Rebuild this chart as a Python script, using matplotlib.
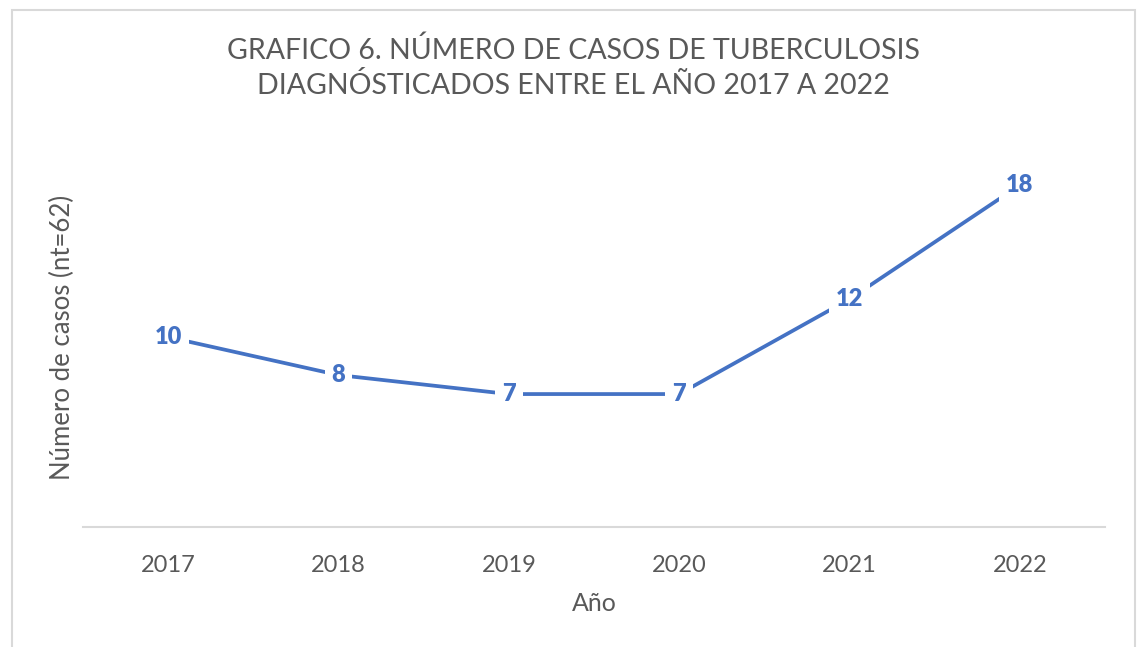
import matplotlib.pyplot as plt
from matplotlib.patches import Rectangle

years = ['2017', '2018', '2019', '2020', '2021', '2022']
casos = [10, 8, 7, 7, 12, 18]

plt.rcParams['font.family'] = ['Lato', 'DejaVu Sans']
gris = '#595959'
azul = '#4472C4'

fig = plt.figure(figsize=(11.4, 6.47), dpi=100)
ax = fig.add_axes([0.0728, 0.1855, 0.8965, 0.587])

x = list(range(len(years)))
ax.plot(x, casos, color=azul, linewidth=2.7, solid_capstyle='butt', zorder=2)
for xi, v in zip(x, casos):
    ax.text(xi, v, str(v), ha='center', va='center', color=azul, fontsize=17,
            fontweight='heavy', zorder=3,
            bbox=dict(boxstyle='square,pad=0.3', fc='white', ec='none'))

ax.set_xlim(-0.5, 5.5)
ax.set_ylim(0, 20)
ax.set_xticks(x)
ax.set_xticklabels(years, fontsize=17, color=gris)
ax.set_yticks([])
ax.tick_params(axis='x', length=0, pad=20)
for s in ['top', 'right', 'left']:
    ax.spines[s].set_visible(False)
ax.spines['bottom'].set_color('#D9D9D9')
ax.spines['bottom'].set_linewidth(1.5)

ax.set_xlabel('Año', fontsize=18, color=gris, labelpad=12)
ax.set_ylabel('Número de casos (nt=62)', fontsize=18.5, color=gris, labelpad=6)

fig.text(0.503, 0.895, 'GRAFICO 6. NÚMERO DE CASOS DE TUBERCULOSIS\nDIAGNÓSTICADOS ENTRE EL AÑO 2017 A 2022',
         ha='center', va='center', fontsize=20.5, color=gris, linespacing=1.35)

fig.patches.append(Rectangle((12 / 1140, -0.05), 1123 / 1140, 1.035, transform=fig.transFigure,
                             fill=False, ec='#D9D9D9', lw=1.5))

fig.savefig('out.png', dpi=100)
